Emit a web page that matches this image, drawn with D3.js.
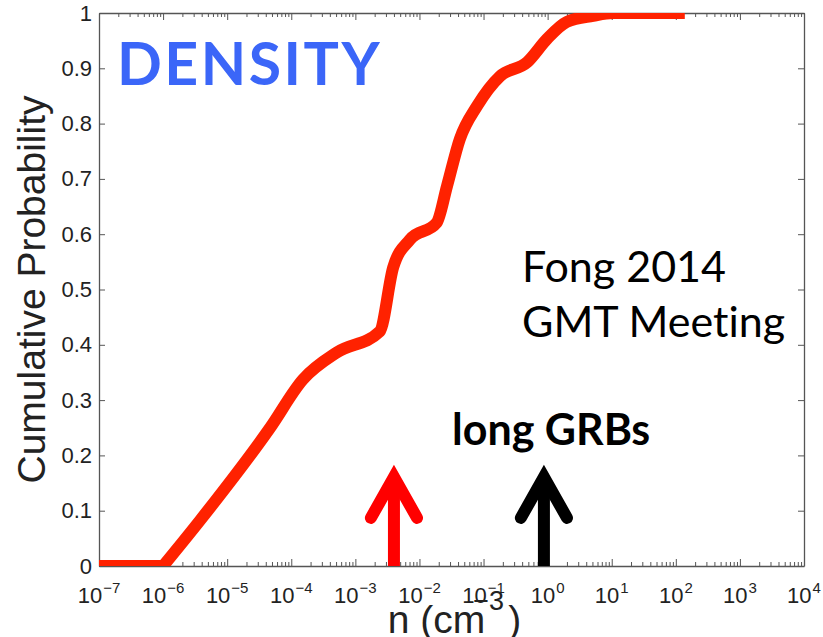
<!DOCTYPE html>
<html>
<head>
<meta charset="utf-8">
<script src="https://cdn.jsdelivr.net/npm/d3@7"></script>
<style>
  html, body { margin: 0; padding: 0; background: #fff; }
  svg { display: block; }
  text { font-variant-ligatures: none; }
</style>
</head>
<body>
<svg id="chart" width="823" height="637"></svg>
<script>
// ---------- data ----------
const logDensity = [-7.0, -6.0, -5.42, -4.33, -3.82, -3.29, -2.62, -2.41, -2.15, -1.73, -1.57, -1.37, -1.10, -0.74, -0.32, -0.01, 0.30, 0.71, 1.02, 2.14];
const cumProb    = [0.0, 0.0, 0.083, 0.25, 0.337, 0.386, 0.424, 0.54, 0.59, 0.621, 0.687, 0.772, 0.832, 0.886, 0.911, 0.953, 0.984, 0.995, 1.0, 1.0];
const arrowDensity = [0.004, 0.875];      // red and black markers
const arrowColors  = ["#ff0000", "#000000"];
const arrowTipProb = 0.161;
const yTicks = [0, 0.1, 0.2, 0.3, 0.4, 0.5, 0.6, 0.7, 0.8, 0.9, 1];
const yTickLabels = ["0", "0.1", "0.2", "0.3", "0.4", "0.5", "0.6", "0.7", "0.8", "0.9", "1"];
const xTickExps = [-7, -6, -5, -4, -3, -2, -1, 0, 1, 2, 3, 4];

// ---------- layout ----------
const W = 823, H = 637;
const m = { left: 99, right: W - 804, top: 13, bottom: H - 566 };
const svg = d3.select("#chart");

const x = d3.scaleLog().domain([1e-7, 1e4]).range([m.left, W - m.right]);
const y = d3.scaleLinear().domain([0, 1]).range([H - m.bottom, m.top]);

const axisColor = "#555";
const pts = logDensity.map((l, i) => ({ n: Math.pow(10, l), p: cumProb[i] }));

// clip
svg.append("defs").append("clipPath").attr("id", "plotclip")
  .append("rect").attr("x", m.left).attr("y", m.top)
  .attr("width", W - m.left - m.right).attr("height", H - m.top - m.bottom);

// ---------- axes ----------
const majors = xTickExps.map(e => Math.pow(10, e));
const minors = [];
for (let e = -7; e < 4; e++) for (let k = 2; k <= 9; k++) minors.push(k * Math.pow(10, e));

function styleAxis(g) {
  g.selectAll("path.domain").attr("stroke", axisColor).attr("stroke-width", 1.3);
  g.selectAll(".tick line").attr("stroke", axisColor).attr("stroke-width", 1);
}

const gx = svg.append("g").attr("transform", `translate(0,${H - m.bottom})`);
gx.call(d3.axisBottom(x).tickValues(majors).tickSize(-7).tickSizeOuter(0).tickFormat("")).call(styleAxis);
gx.append("g").call(d3.axisBottom(x).tickValues(minors).tickSize(-4).tickSizeOuter(0).tickFormat(""))
  .call(g => g.select("path.domain").remove()).call(styleAxis);

const gxt = svg.append("g").attr("transform", `translate(0,${m.top})`);
gxt.call(d3.axisTop(x).tickValues(majors).tickSize(-7).tickSizeOuter(0).tickFormat("")).call(styleAxis);
gxt.append("g").call(d3.axisTop(x).tickValues(minors).tickSize(-4).tickSizeOuter(0).tickFormat(""))
  .call(g => g.select("path.domain").remove()).call(styleAxis);

const gy = svg.append("g").attr("transform", `translate(${m.left},0)`);
gy.call(d3.axisLeft(y).tickValues(yTicks).tickSize(-6).tickSizeOuter(0).tickPadding(7)
  .tickFormat((d, i) => yTickLabels[i])).call(styleAxis);
gy.selectAll(".tick text").attr("font-family", "'Liberation Sans', Arial, sans-serif")
  .attr("font-size", 22).attr("fill", "#222");

const gyr = svg.append("g").attr("transform", `translate(${W - m.right},0)`);
gyr.call(d3.axisRight(y).tickValues(yTicks).tickSize(-6).tickSizeOuter(0).tickFormat("")).call(styleAxis);

// x tick labels with superscripts
const xl = svg.append("g").attr("font-family", "'Liberation Sans', Arial, sans-serif").attr("fill", "#222");
xTickExps.forEach(e => {
  const t = xl.append("text").attr("x", x(Math.pow(10, e))).attr("y", 603)
    .attr("text-anchor", "middle").attr("font-size", 22);
  t.append("tspan").text("10");
  t.append("tspan").attr("font-size", 15).attr("dy", -10).attr("dx", 1)
    .text(e < 0 ? "\u2212" + Math.abs(e) : String(e));
});

// axis titles
svg.append("text")
  .attr("transform", `translate(45,${(m.top + H - m.bottom) / 2}) rotate(-90)`)
  .attr("text-anchor", "middle")
  .attr("font-family", "'Liberation Sans', Arial, sans-serif").attr("font-size", 39).attr("fill", "#222")
  .text("Cumulative Probability");

const xt = svg.append("text").attr("x", (m.left + W - m.right) / 2 + 3).attr("y", 633)
  .attr("text-anchor", "middle")
  .attr("font-family", "'Liberation Sans', Arial, sans-serif").attr("font-size", 39).attr("fill", "#222");
xt.append("tspan").text("n (cm");
xt.append("tspan").attr("font-size", 27).attr("dy", -23).attr("dx", -12).text("\u22123");
xt.append("tspan").attr("dy", 23).attr("dx", 4).text(")");

// ---------- curve ----------
// flat part drawn straight, the rest smoothed; joined into one path
const flat = pts.slice(0, 2);
const rest = pts.slice(1);
const linLine = d3.line().x(d => x(d.n)).y(d => y(d.p));
const smoothLine = d3.line().x(d => x(d.n)).y(d => y(d.p)).curve(d3.curveMonotoneX);
const dPath = linLine(flat) + smoothLine(rest).replace(/^M[^A-Za-z]*/, "");
svg.append("path").attr("clip-path", "url(#plotclip)")
  .attr("d", dPath).attr("fill", "none").attr("stroke", "#ff2200")
  .attr("stroke-width", 12).attr("stroke-linejoin", "miter").attr("stroke-linecap", "butt");

// ---------- arrows ----------
const wingDec = 0.36, wingDrop = 0.074;
arrowDensity.forEach((n, i) => {
  const g = svg.append("g").attr("stroke", arrowColors[i]).attr("fill", "none").attr("stroke-width", 12);
  g.append("line").attr("clip-path", "url(#plotclip)")
    .attr("x1", x(n)).attr("x2", x(n)).attr("y1", y(0)).attr("y2", y(arrowTipProb));
  const head = [[n * Math.pow(10, -wingDec), arrowTipProb - wingDrop], [n, arrowTipProb], [n * Math.pow(10, wingDec), arrowTipProb - wingDrop]];
  g.append("path").attr("d", d3.line().x(d => x(d[0])).y(d => y(d[1]))(head))
    .attr("stroke-linecap", "round").attr("stroke-linejoin", "miter");
});

// ---------- annotations ----------
svg.append("text").attr("x", 117).attr("y", 85)
  .attr("font-family", "Lato, sans-serif").attr("font-weight", 700).attr("font-size", 59)
  .attr("letter-spacing", 2.5)
  .attr("fill", "#3b66f8").text("DENSITY");
svg.append("text").attr("x", 690).attr("y", -8)
  .attr("font-family", "Lato, sans-serif").attr("font-weight", 700).attr("font-size", 44)
  .attr("fill", "#0000f0").text("y");

svg.append("text").attr("x", 452).attr("y", 445)
  .attr("font-family", "Lato, sans-serif").attr("font-weight", 700).attr("font-size", 43)
  .attr("fill", "#000").text("long GRBs");

const fong = svg.append("text").attr("font-family", "Lato, sans-serif").attr("font-size", 43).attr("fill", "#000");
fong.append("tspan").attr("x", 522).attr("y", 282).text("Fong 2014");
fong.append("tspan").attr("x", 522).attr("y", 337).text("GMT Meeting");
</script>
</body>
</html>
